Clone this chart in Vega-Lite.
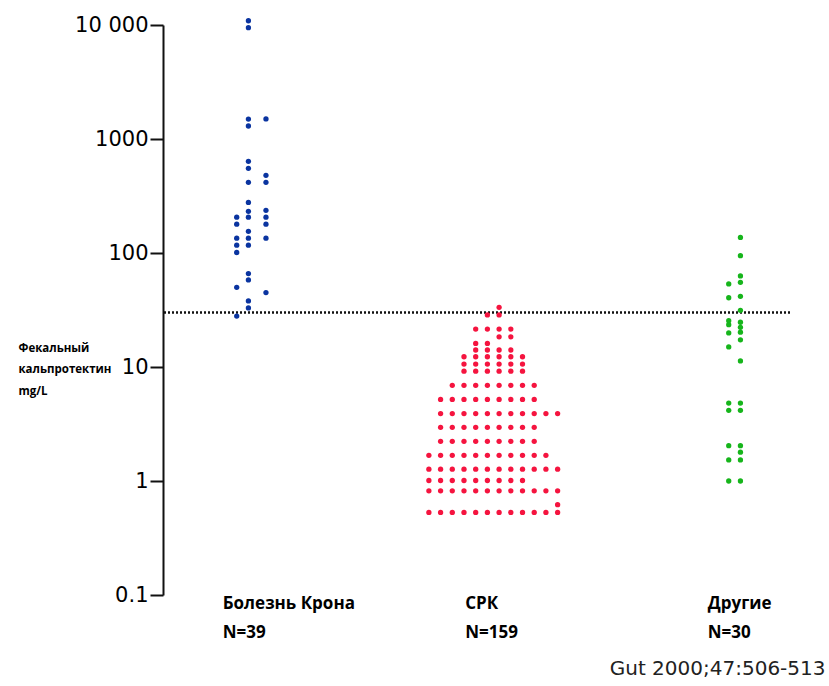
{
  "$schema": "https://vega.github.io/schema/vega-lite/v6.json",
  "width": 627,
  "height": 570,
  "autosize": "none",
  "padding": {"left": 163, "top": 25, "right": 39, "bottom": 91},
  "background": "white",
  "config": {"view": {"stroke": null}},
  "layer": [
    {
      "data": {"values": [{"v": 30}]},
      "mark": {"type": "rule", "strokeDash": [2, 2], "strokeWidth": 2.5, "color": "#111"},
      "encoding": {"y": {"field": "v", "type": "quantitative", "scale": {"type": "log", "domain": [0.1, 10000], "nice": false}}}
    },
    {
      "data": {"values": [
        {"g": "Болезнь Крона", "c": -1.2, "v": 206}, {"g": "Болезнь Крона", "c": -1.2, "v": 179}, {"g": "Болезнь Крона", "c": -1.2, "v": 135}, {"g": "Болезнь Крона", "c": -1.2, "v": 117}, {"g": "Болезнь Крона", "c": -1.2, "v": 101}, {"g": "Болезнь Крона", "c": -1.2, "v": 50}, {"g": "Болезнь Крона", "c": -1.2, "v": 28},
        {"g": "Болезнь Крона", "c": -0.2, "v": 10900}, {"g": "Болезнь Крона", "c": -0.2, "v": 9470}, {"g": "Болезнь Крона", "c": -0.2, "v": 1497}, {"g": "Болезнь Крона", "c": -0.2, "v": 1300}, {"g": "Болезнь Крона", "c": -0.2, "v": 637}, {"g": "Болезнь Крона", "c": -0.2, "v": 553}, {"g": "Болезнь Крона", "c": -0.2, "v": 417}, {"g": "Болезнь Крона", "c": -0.2, "v": 278}, {"g": "Болезнь Крона", "c": -0.2, "v": 232}, {"g": "Болезнь Крона", "c": -0.2, "v": 206}, {"g": "Болезнь Крона", "c": -0.2, "v": 155}, {"g": "Болезнь Крона", "c": -0.2, "v": 135}, {"g": "Болезнь Крона", "c": -0.2, "v": 117}, {"g": "Болезнь Крона", "c": -0.2, "v": 66}, {"g": "Болезнь Крона", "c": -0.2, "v": 58}, {"g": "Болезнь Крона", "c": -0.2, "v": 38}, {"g": "Болезнь Крона", "c": -0.2, "v": 33},
        {"g": "Болезнь Крона", "c": 1.3, "v": 1500}, {"g": "Болезнь Крона", "c": 1.3, "v": 480}, {"g": "Болезнь Крона", "c": 1.3, "v": 417}, {"g": "Болезнь Крона", "c": 1.3, "v": 237}, {"g": "Болезнь Крона", "c": 1.3, "v": 206}, {"g": "Болезнь Крона", "c": 1.3, "v": 179}, {"g": "Болезнь Крона", "c": 1.3, "v": 135}, {"g": "Болезнь Крона", "c": 1.3, "v": 45},

        {"g": "СРК", "c": 0.5, "v": 33.4},
        {"g": "СРК", "c": -0.5, "v": 28.6}, {"g": "СРК", "c": 0.5, "v": 28.6},
        {"g": "СРК", "c": -1.5, "v": 21.5}, {"g": "СРК", "c": -0.5, "v": 21.5}, {"g": "СРК", "c": 0.5, "v": 21.5}, {"g": "СРК", "c": 1.5, "v": 21.5},
        {"g": "СРК", "c": 0.5, "v": 18.4}, {"g": "СРК", "c": 1.5, "v": 18.4},
        {"g": "СРК", "c": -1.5, "v": 16.1}, {"g": "СРК", "c": -0.5, "v": 16.1},
        {"g": "СРК", "c": -1.5, "v": 14.1}, {"g": "СРК", "c": -0.5, "v": 14.1}, {"g": "СРК", "c": 0.5, "v": 14.1}, {"g": "СРК", "c": 1.5, "v": 14.1},
        {"g": "СРК", "c": -2.5, "v": 12.3}, {"g": "СРК", "c": -1.5, "v": 12.3}, {"g": "СРК", "c": -0.5, "v": 12.3}, {"g": "СРК", "c": 0.5, "v": 12.3}, {"g": "СРК", "c": 1.5, "v": 12.3}, {"g": "СРК", "c": 2.5, "v": 12.3},
        {"g": "СРК", "c": -2.5, "v": 10.6}, {"g": "СРК", "c": -1.5, "v": 10.6}, {"g": "СРК", "c": -0.5, "v": 10.6}, {"g": "СРК", "c": 0.5, "v": 10.6}, {"g": "СРК", "c": 1.5, "v": 10.6}, {"g": "СРК", "c": 2.5, "v": 10.6},
        {"g": "СРК", "c": -2.5, "v": 9.2}, {"g": "СРК", "c": -1.5, "v": 9.2}, {"g": "СРК", "c": -0.5, "v": 9.2}, {"g": "СРК", "c": 0.5, "v": 9.2}, {"g": "СРК", "c": 1.5, "v": 9.2}, {"g": "СРК", "c": 2.5, "v": 9.2},
        {"g": "СРК", "c": -3.5, "v": 6.9}, {"g": "СРК", "c": -2.5, "v": 6.9}, {"g": "СРК", "c": -1.5, "v": 6.9}, {"g": "СРК", "c": -0.5, "v": 6.9}, {"g": "СРК", "c": 0.5, "v": 6.9}, {"g": "СРК", "c": 1.5, "v": 6.9}, {"g": "СРК", "c": 2.5, "v": 6.9}, {"g": "СРК", "c": 3.5, "v": 6.9},
        {"g": "СРК", "c": -4.5, "v": 5.2}, {"g": "СРК", "c": -3.5, "v": 5.2}, {"g": "СРК", "c": -2.5, "v": 5.2}, {"g": "СРК", "c": -1.5, "v": 5.2}, {"g": "СРК", "c": -0.5, "v": 5.2}, {"g": "СРК", "c": 0.5, "v": 5.2}, {"g": "СРК", "c": 1.5, "v": 5.2}, {"g": "СРК", "c": 2.5, "v": 5.2}, {"g": "СРК", "c": 3.5, "v": 5.2},
        {"g": "СРК", "c": -4.5, "v": 3.9}, {"g": "СРК", "c": -3.5, "v": 3.9}, {"g": "СРК", "c": -2.5, "v": 3.9}, {"g": "СРК", "c": -1.5, "v": 3.9}, {"g": "СРК", "c": -0.5, "v": 3.9}, {"g": "СРК", "c": 0.5, "v": 3.9}, {"g": "СРК", "c": 1.5, "v": 3.9}, {"g": "СРК", "c": 2.5, "v": 3.9}, {"g": "СРК", "c": 3.5, "v": 3.9}, {"g": "СРК", "c": 4.5, "v": 3.9}, {"g": "СРК", "c": 5.5, "v": 3.9},
        {"g": "СРК", "c": -4.5, "v": 2.96}, {"g": "СРК", "c": -3.5, "v": 2.96}, {"g": "СРК", "c": -2.5, "v": 2.96}, {"g": "СРК", "c": -1.5, "v": 2.96}, {"g": "СРК", "c": -0.5, "v": 2.96}, {"g": "СРК", "c": 0.5, "v": 2.96}, {"g": "СРК", "c": 1.5, "v": 2.96}, {"g": "СРК", "c": 2.5, "v": 2.96}, {"g": "СРК", "c": 3.5, "v": 2.96},
        {"g": "СРК", "c": -4.5, "v": 2.23}, {"g": "СРК", "c": -3.5, "v": 2.23}, {"g": "СРК", "c": -2.5, "v": 2.23}, {"g": "СРК", "c": -1.5, "v": 2.23}, {"g": "СРК", "c": -0.5, "v": 2.23}, {"g": "СРК", "c": 0.5, "v": 2.23}, {"g": "СРК", "c": 1.5, "v": 2.23}, {"g": "СРК", "c": 2.5, "v": 2.23}, {"g": "СРК", "c": 3.5, "v": 2.23},
        {"g": "СРК", "c": -5.5, "v": 1.68}, {"g": "СРК", "c": -4.5, "v": 1.68}, {"g": "СРК", "c": -3.5, "v": 1.68}, {"g": "СРК", "c": -2.5, "v": 1.68}, {"g": "СРК", "c": -1.5, "v": 1.68}, {"g": "СРК", "c": -0.5, "v": 1.68}, {"g": "СРК", "c": 0.5, "v": 1.68}, {"g": "СРК", "c": 1.5, "v": 1.68}, {"g": "СРК", "c": 2.5, "v": 1.68}, {"g": "СРК", "c": 3.5, "v": 1.68}, {"g": "СРК", "c": 4.5, "v": 1.68},
        {"g": "СРК", "c": -5.5, "v": 1.27}, {"g": "СРК", "c": -4.5, "v": 1.27}, {"g": "СРК", "c": -3.5, "v": 1.27}, {"g": "СРК", "c": -2.5, "v": 1.27}, {"g": "СРК", "c": -1.5, "v": 1.27}, {"g": "СРК", "c": -0.5, "v": 1.27}, {"g": "СРК", "c": 0.5, "v": 1.27}, {"g": "СРК", "c": 1.5, "v": 1.27}, {"g": "СРК", "c": 2.5, "v": 1.27}, {"g": "СРК", "c": 3.5, "v": 1.27}, {"g": "СРК", "c": 4.5, "v": 1.27}, {"g": "СРК", "c": 5.5, "v": 1.27},
        {"g": "СРК", "c": -5.5, "v": 1.01}, {"g": "СРК", "c": -4.5, "v": 1.01}, {"g": "СРК", "c": -3.5, "v": 1.01}, {"g": "СРК", "c": -2.5, "v": 1.01}, {"g": "СРК", "c": -1.5, "v": 1.01}, {"g": "СРК", "c": -0.5, "v": 1.01}, {"g": "СРК", "c": 0.5, "v": 1.01}, {"g": "СРК", "c": 1.5, "v": 1.01}, {"g": "СРК", "c": 2.5, "v": 1.01},
        {"g": "СРК", "c": -5.5, "v": 0.82}, {"g": "СРК", "c": -4.5, "v": 0.82}, {"g": "СРК", "c": -3.5, "v": 0.82}, {"g": "СРК", "c": -2.5, "v": 0.82}, {"g": "СРК", "c": -1.5, "v": 0.82}, {"g": "СРК", "c": -0.5, "v": 0.82}, {"g": "СРК", "c": 0.5, "v": 0.82}, {"g": "СРК", "c": 1.5, "v": 0.82}, {"g": "СРК", "c": 2.5, "v": 0.82}, {"g": "СРК", "c": 3.5, "v": 0.82}, {"g": "СРК", "c": 4.5, "v": 0.82}, {"g": "СРК", "c": 5.5, "v": 0.82},
        {"g": "СРК", "c": 5.5, "v": 0.62},
        {"g": "СРК", "c": -5.5, "v": 0.53}, {"g": "СРК", "c": -4.5, "v": 0.53}, {"g": "СРК", "c": -3.5, "v": 0.53}, {"g": "СРК", "c": -2.5, "v": 0.53}, {"g": "СРК", "c": -1.5, "v": 0.53}, {"g": "СРК", "c": -0.5, "v": 0.53}, {"g": "СРК", "c": 0.5, "v": 0.53}, {"g": "СРК", "c": 1.5, "v": 0.53}, {"g": "СРК", "c": 2.5, "v": 0.53}, {"g": "СРК", "c": 3.5, "v": 0.53}, {"g": "СРК", "c": 4.5, "v": 0.53}, {"g": "СРК", "c": 5.5, "v": 0.53},

        {"g": "Другие", "c": 0.4, "v": 137}, {"g": "Другие", "c": 0.4, "v": 94.7}, {"g": "Другие", "c": 0.4, "v": 62.9}, {"g": "Другие", "c": 0.4, "v": 55.3}, {"g": "Другие", "c": 0.4, "v": 41.7}, {"g": "Другие", "c": 0.4, "v": 31.4}, {"g": "Другие", "c": 0.4, "v": 24.7}, {"g": "Другие", "c": 0.4, "v": 22.3}, {"g": "Другие", "c": 0.4, "v": 20.2}, {"g": "Другие", "c": 0.4, "v": 17.3}, {"g": "Другие", "c": 0.4, "v": 11.3}, {"g": "Другие", "c": 0.4, "v": 4.83}, {"g": "Другие", "c": 0.4, "v": 4.17}, {"g": "Другие", "c": 0.4, "v": 2.04}, {"g": "Другие", "c": 0.4, "v": 1.79}, {"g": "Другие", "c": 0.4, "v": 1.53}, {"g": "Другие", "c": 0.4, "v": 1.0},
        {"g": "Другие", "c": -0.6, "v": 53.5}, {"g": "Другие", "c": -0.6, "v": 40.5}, {"g": "Другие", "c": -0.6, "v": 25.5}, {"g": "Другие", "c": -0.6, "v": 23.5}, {"g": "Другие", "c": -0.6, "v": 19.9}, {"g": "Другие", "c": -0.6, "v": 15}, {"g": "Другие", "c": -0.6, "v": 4.83}, {"g": "Другие", "c": -0.6, "v": 4.17}, {"g": "Другие", "c": -0.6, "v": 2.04}, {"g": "Другие", "c": -0.6, "v": 1.53}, {"g": "Другие", "c": -0.6, "v": 1.0}
      ]},
      "mark": {"type": "circle", "size": 28, "opacity": 1},
      "encoding": {
        "x": {
          "field": "g", "type": "nominal",
          "scale": {"domain": ["Болезнь Крона", "СРК", "Другие"], "range": [-33.5, 694], "paddingInner": 0, "paddingOuter": 0},
          "axis": {
            "title": "Gut 2000;47:506-513",
            "titleFont": "DejaVu Sans", "titleFontSize": 20, "titleFontWeight": "normal", "titleColor": "#222",
            "titleAlign": "right", "titleBaseline": "middle", "titleX": 662, "titleY": 73,
            "domain": false, "ticks": false, "tickSize": 0,
            "labelExpr": "datum.value == 'СРК' ? ['СРК', 'N=159'] : datum.value == 'Другие' ? ['Другие', 'N=30'] : ['Болезнь Крона', 'N=39']",
            "labelAlign": "left", "labelOffset": -28, "labelBaseline": "top", "labelPadding": 0,
            "labelFont": "Open Sans", "labelFontSize": 17, "labelFontWeight": "bold", "labelColor": "#000",
            "labelLineHeight": 29, "labelAngle": 0
          }
        },
        "xOffset": {"field": "c", "type": "quantitative", "scale": {"domain": [-10.36, 10.36], "range": [0, 242.5]}},
        "y": {
          "field": "v", "type": "quantitative",
          "scale": {"type": "log", "domain": [0.1, 10000], "nice": false},
          "axis": {
            "values": [0.1, 1, 10, 100, 1000, 10000],
            "labelExpr": "datum.value >= 10000 ? '10 000' : datum.value < 1 ? '0.1' : format(datum.value, 'd')",
            "labelFont": "DejaVu Sans", "labelFontSize": 21, "labelColor": "#000", "labelPadding": 2,
            "tickSize": 13, "tickWidth": 2, "tickColor": "#111",
            "domainColor": "#111", "domainWidth": 2, "grid": false,
            "title": ["Фекальный", "кальпротектин", "mg/L"],
            "titleFont": "Open Sans", "titleFontSize": 11.5, "titleFontWeight": "bold", "titleColor": "#000",
            "titleAngle": 0, "titleAlign": "left", "titleBaseline": "alphabetic",
            "titleX": -145, "titleY": 326, "titleLineHeight": 21.5
          }
        },
        "color": {
          "field": "g", "type": "nominal", "legend": null,
          "scale": {"domain": ["Болезнь Крона", "СРК", "Другие"], "range": ["#0a34a0", "#f5143f", "#16b51b"]}
        }
      }
    }
  ]
}
